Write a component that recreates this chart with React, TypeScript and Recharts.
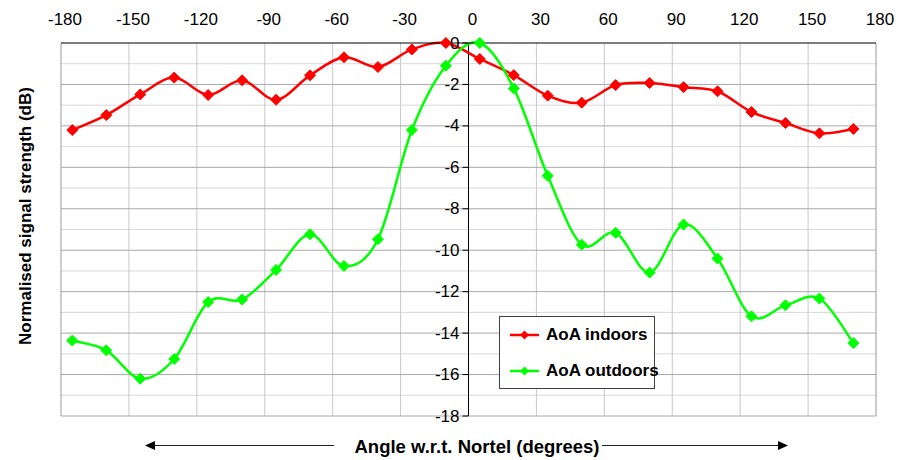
import React from "react";
import {
  LineChart,
  Line,
  XAxis,
  YAxis,
  ReferenceLine,
  ReferenceDot,
} from "recharts";

const angles = [
  -175, -160, -145, -130, -115, -100, -85, -70, -55, -40, -25, -10,
  5, 20, 35, 50, 65, 80, 95, 110, 125, 140, 155, 170,
];
const indoors = [
  -4.2, -3.48, -2.48, -1.67, -2.51, -1.8, -2.74, -1.56, -0.69, -1.16, -0.31, 0,
  -0.77, -1.55, -2.54, -2.88, -2.03, -1.93, -2.13, -2.33, -3.33, -3.86, -4.36, -4.15,
];
const outdoors = [
  -14.36, -14.83, -16.2, -15.25, -12.5, -12.38, -10.95, -9.23, -10.76, -9.47, -4.2, -1.1,
  0, -2.19, -6.41, -9.73, -9.16, -11.08, -8.76, -10.4, -13.19, -12.66, -12.33, -14.48,
];
const xTicks = [-180, -150, -120, -90, -60, -30, 0, 30, 60, 90, 120, 150, 180];
const yMinor = [-17, -15, -13, -11, -9, -7, -5, -3, -1];
const yMajor = [-18, -16, -14, -12, -10, -8, -6, -4, -2, 0];

const data = angles.map((a, i) => ({ angle: a, indoors: indoors[i], outdoors: outdoors[i] }));

const FONT = "Arial, 'Liberation Sans', sans-serif";
const RED = "#FF0000";
const GREEN = "#00FF00";

// excel style smoothing (catmull-rom through every point)
function excelCurve(context: any) {
  let pts: number[][] = [];
  return {
    areaStart() {},
    areaEnd() {},
    lineStart() {
      pts = [];
    },
    lineEnd() {
      const n = pts.length;
      if (!n) return;
      context.moveTo(pts[0][0], pts[0][1]);
      for (let i = 0; i < n - 1; i++) {
        const p0 = pts[i - 1] || pts[i];
        const p1 = pts[i];
        const p2 = pts[i + 1];
        const p3 = pts[i + 2] || p2;
        context.bezierCurveTo(
          p1[0] + (p2[0] - p0[0]) / 6,
          p1[1] + (p2[1] - p0[1]) / 6,
          p2[0] - (p3[0] - p1[0]) / 6,
          p2[1] - (p3[1] - p1[1]) / 6,
          p2[0],
          p2[1]
        );
      }
    },
    point(x: number, y: number) {
      pts.push([+x, +y]);
    },
  };
}

function diamond(color: string) {
  return (props: any) => {
    const { cx, cy, index } = props;
    const s = 5.5;
    return (
      <path
        key={`d-${index}`}
        d={`M${cx},${cy - s}L${cx + s},${cy}L${cx},${cy + s}L${cx - s},${cy}Z`}
        fill={color}
        stroke={color}
      />
    );
  };
}

function YTick(value: number) {
  return (props: any) => {
    const { cx, cy } = props;
    return (
      <g>
        <line x1={cx - 6} y1={cy} x2={cx} y2={cy} stroke="#000" />
        <text
          x={cx - 9}
          y={cy}
          textAnchor="end"
          dominantBaseline="central"
          fontSize={17}
          fontFamily={FONT}
          fill="#000"
        >
          {value}
        </text>
      </g>
    );
  };
}

function LegendIcon({ color }: { color: string }) {
  return (
    <svg width={30} height={12} style={{ marginRight: 6, flex: "none" }}>
      <line x1={0} y1={6} x2={29} y2={6} stroke={color} strokeWidth={2.5} />
      <path d="M14.5,1.5L19,6L14.5,10.5L10,6Z" fill={color} />
    </svg>
  );
}

export default function App() {
  return (
    <div style={{ position: "relative", width: 910, height: 460, fontFamily: FONT }}>
      <style>{`body{margin:0}`}</style>
      <LineChart width={910} height={460} data={data} margin={{ top: 0, right: 34, bottom: 44, left: 61 }}>
        <XAxis
          dataKey="angle"
          type="number"
          orientation="top"
          domain={[-180, 180]}
          ticks={xTicks}
          interval={0}
          height={43}
          axisLine={{ stroke: "#000" }}
          tickLine={false}
          tickSize={0}
          tickMargin={18}
          tick={{ fill: "#000", fontSize: 17, fontFamily: FONT, dx: 4 }}
        />
        <YAxis type="number" domain={[-18, 0]} width={0} tick={false} axisLine={false} tickLine={false} />
        {yMinor.map((v) => (
          <ReferenceLine key={`mi${v}`} y={v} stroke="#d8d8d8" />
        ))}
        {xTicks.map((v) => (
          <ReferenceLine key={`vx${v}`} x={v} stroke={v === -180 || v === 180 ? "#999" : "#c8c8c8"} />
        ))}
        {yMajor.map((v) => (
          <ReferenceLine key={`ma${v}`} y={v} stroke={v === 0 ? "none" : "#a8a8a8"} />
        ))}
        <ReferenceLine x={0} stroke="#000" />
        {yMajor.map((v) => (
          <ReferenceDot key={`t${v}`} x={0} y={v} r={0} ifOverflow="visible" shape={YTick(v)} />
        ))}
        <Line
          type={excelCurve as any}
          dataKey="indoors"
          stroke={RED}
          strokeWidth={2.5}
          dot={diamond(RED)}
          isAnimationActive={false}
        />
        <Line
          type={excelCurve as any}
          dataKey="outdoors"
          stroke={GREEN}
          strokeWidth={2.5}
          dot={diamond(GREEN)}
          isAnimationActive={false}
        />
      </LineChart>

      <svg width={910} height={460} style={{ position: "absolute", left: 0, top: 0, pointerEvents: "none" }}>
        <text
          transform="translate(31,216) rotate(-90)"
          textAnchor="middle"
          fontSize={17}
          fontWeight="bold"
          fontFamily={FONT}
          fill="#000"
        >
          Normalised signal strength (dB)
        </text>
        <text x={477} y={453} textAnchor="middle" fontSize={18.5} fontWeight="bold" fontFamily={FONT} fill="#000">
          Angle w.r.t. Nortel (degrees)
        </text>
        <line x1={152} y1={445.5} x2={334} y2={445.5} stroke="#222" />
        <path d="M145,445.5L155,441L155,450Z" fill="#000" />
        <line x1={602} y1={445.5} x2={781} y2={445.5} stroke="#222" />
        <path d="M788,445.5L778,441L778,450Z" fill="#000" />
      </svg>

      <div
        style={{
          position: "absolute",
          left: 499,
          top: 316,
          width: 154,
          height: 71,
          border: "1.5px solid #404040",
          background: "#fff",
          fontWeight: "bold",
          fontSize: 17,
          color: "#000",
          whiteSpace: "nowrap",
        }}
      >
        <div style={{ position: "absolute", left: 10, top: 8, display: "flex", alignItems: "center" }}>
          <LegendIcon color={RED} />
          <span>AoA indoors</span>
        </div>
        <div style={{ position: "absolute", left: 10, top: 44, display: "flex", alignItems: "center" }}>
          <LegendIcon color={GREEN} />
          <span>AoA outdoors</span>
        </div>
      </div>
    </div>
  );
}
